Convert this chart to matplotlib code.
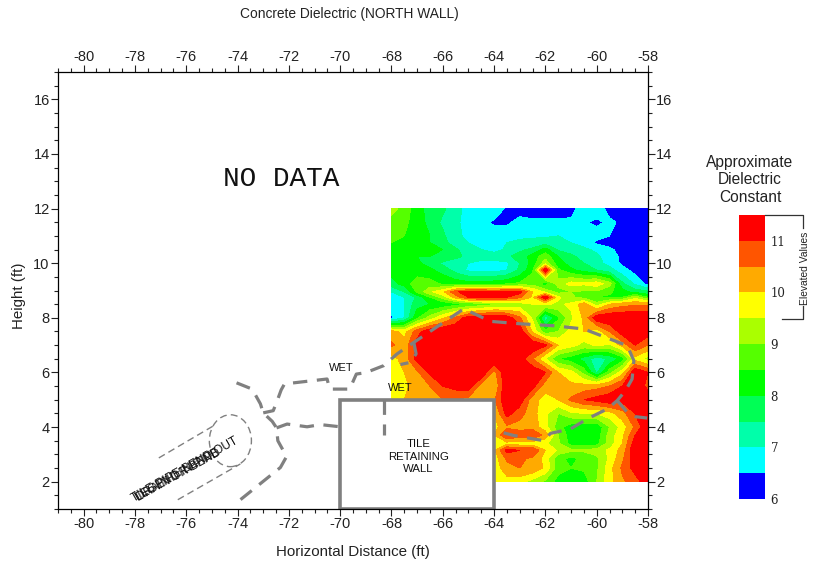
import matplotlib
matplotlib.use("Agg")
import matplotlib.pyplot as plt
import numpy as np
from matplotlib.lines import Line2D
from matplotlib.patches import Ellipse, Rectangle
from matplotlib.ticker import MultipleLocator

plt.rcParams['font.family'] = ['Liberation Sans', 'DejaVu Sans']
plt.rcParams['axes.unicode_minus'] = False

grid_x = [-68 + 0.5 * i for i in range(21)]
grid_y = [12, 11.5, 11, 10.75, 10.5, 10.25, 10, 9.75, 9.25, 8.95, 8.75, 8.5, 8, 7.5, 7, 6.5, 6, 5.5, 5, 4.5, 4, 3.7, 3.4, 3.15, 2.85, 2.5, 2]

# dielectric values, top row first
rows = [
    [9.2, 8.8, 8.2, 7.8, 7.6, 7.2, 6.8, 6.8, 6.9, 6.4, 6.2, 6.2, 6.2, 6.2, 6.3, 6.8, 6.8, 6.3, 6.2, 6.2, 6.2],
    [8.8, 8.6, 8.3, 7.8, 7.4, 7.1, 6.8, 6.7, 6.4, 6.4, 6.7, 6.6, 6.6, 6.6, 6.6, 6.55, 6.4, 6.6, 6.4, 6.2, 6.2],
    [8.7, 8.5, 8.2, 8.0, 7.6, 7.1, 6.9, 6.9, 6.8, 6.8, 6.9, 6.9, 6.9, 7.0, 6.9, 6.8, 6.7, 6.5, 6.3, 6.2, 6.2],
    [8.5, 8.4, 8.2, 8.0, 7.7, 7.2, 7.0, 6.9, 6.7, 7.0, 7.1, 7.2, 7.3, 7.2, 7.0, 6.8, 6.4, 6.3, 6.2, 6.2, 6.2],
    [8.4, 8.4, 8.2, 8.1, 8.0, 7.6, 7.2, 7.0, 6.8, 7.1, 7.4, 7.6, 8.2, 7.4, 7.3, 7.1, 6.9, 6.6, 6.3, 6.2, 6.2],
    [8.2, 8.0, 8.0, 8.0, 7.9, 7.6, 7.4, 7.3, 7.3, 7.4, 7.7, 8.2, 8.8, 8.0, 7.6, 7.3, 7.1, 6.7, 6.4, 6.2, 6.2],
    [8.2, 8.2, 8.1, 7.8, 7.4, 7.3, 7.0, 6.8, 6.8, 6.9, 7.5, 8.2, 9.3, 8.2, 7.8, 7.5, 7.2, 6.8, 6.4, 6.2, 6.2],
    [8.2, 8.2, 8.2, 8.1, 7.8, 7.3, 6.9, 6.8, 6.8, 7.0, 7.6, 8.4, 11.5, 8.6, 8.1, 7.8, 7.5, 7.2, 6.7, 6.3, 6.2],
    [7.8, 8.2, 8.8, 8.7, 8.4, 8.3, 8.2, 8.2, 8.3, 8.4, 8.6, 8.8, 8.2, 9.2, 9.7, 9.6, 9.8, 9.2, 7.6, 6.9, 6.3],
    [7.0, 7.5, 8.6, 9.4, 9.9, 10.9, 11.3, 11.3, 11.0, 11.3, 11.2, 10.0, 9.4, 8.8, 9.0, 8.9, 8.9, 8.6, 8.2, 7.8, 7.6],
    [6.9, 7.0, 7.6, 8.5, 9.2, 10.2, 11.0, 11.2, 11.2, 11.0, 10.6, 9.9, 11.5, 9.6, 9.1, 8.8, 8.5, 8.4, 8.5, 9.3, 8.5],
    [6.8, 7.0, 7.8, 8.0, 8.1, 8.3, 8.5, 8.7, 8.9, 9.0, 9.2, 9.5, 9.6, 9.4, 9.6, 10.3, 9.2, 10.0, 10.3, 10.4, 10.4],
    [6.4, 7.0, 8.4, 9.2, 9.9, 10.6, 11.3, 11.4, 11.5, 11.3, 10.6, 9.4, 7.2, 8.4, 9.4, 10.1, 11.4, 11.5, 11.5, 11.5, 11.5],
    [10.2, 9.8, 10.8, 11.4, 11.5, 11.5, 11.5, 11.5, 11.5, 11.5, 11.4, 9.9, 8.6, 9.0, 9.7, 10.0, 9.7, 10.5, 11.3, 11.5, 11.3],
    [10.6, 10.2, 11.2, 11.5, 11.5, 11.5, 11.5, 11.5, 11.5, 11.5, 11.5, 11.5, 11.1, 10.0, 9.7, 9.3, 9.6, 9.4, 10.2, 11.0, 10.5],
    [9.8, 10.2, 11.2, 11.5, 11.5, 11.5, 11.5, 11.5, 11.5, 11.5, 11.3, 10.5, 9.5, 8.5, 8.2, 7.8, 7.2, 7.6, 8.2, 9.8, 9.3],
    [9.7, 10.0, 10.4, 11.1, 11.5, 11.5, 11.5, 11.5, 10.3, 11.5, 11.5, 11.4, 11.0, 10.0, 9.7, 8.8, 7.4, 8.8, 9.8, 11.5, 11.0],
    [9.7, 9.9, 10.2, 10.5, 11.0, 11.2, 11.3, 10.3, 10.0, 11.5, 11.5, 11.2, 10.2, 10.2, 10.1, 10.2, 10.3, 10.5, 11.0, 11.5, 10.8],
    [9.5, 10.0, 10.2, 10.4, 10.5, 10.5, 10.3, 10.2, 10.4, 11.5, 11.3, 10.2, 9.8, 10.0, 10.6, 11.0, 11.2, 11.4, 11.2, 11.5, 11.5],
    [9.5, 10.0, 10.0, 10.0, 10.0, 10.0, 10.0, 10.0, 10.0, 11.2, 10.7, 10.2, 9.6, 9.0, 9.4, 9.5, 9.5, 9.8, 10.3, 11.0, 11.5],
    [9.5, 10.0, 10.0, 10.0, 10.0, 10.0, 10.0, 10.0, 9.8, 10.4, 10.3, 10.3, 9.7, 8.7, 8.2, 8.2, 8.1, 9.0, 9.7, 10.6, 11.5],
    [9.5, 10.0, 10.0, 10.0, 10.0, 10.0, 10.0, 10.0, 10.0, 11.0, 10.8, 11.0, 10.3, 9.0, 8.2, 8.2, 8.2, 9.2, 9.9, 11.0, 11.5],
    [9.5, 10.0, 10.0, 10.0, 10.0, 10.0, 10.0, 10.0, 9.8, 9.8, 9.7, 9.7, 9.6, 9.1, 8.3, 8.2, 8.3, 9.2, 10.0, 11.3, 11.5],
    [9.5, 10.0, 10.0, 10.0, 10.0, 10.0, 10.0, 10.0, 9.9, 11.2, 11.0, 11.0, 10.0, 9.4, 9.1, 9.1, 9.2, 9.6, 10.2, 11.5, 11.5],
    [9.5, 10.0, 10.0, 10.0, 10.0, 10.0, 10.0, 10.0, 9.7, 10.6, 10.6, 10.4, 9.8, 8.6, 8.4, 8.6, 8.9, 9.6, 10.4, 11.3, 11.5],
    [9.5, 10.0, 10.0, 10.0, 10.0, 10.0, 10.0, 10.0, 9.7, 10.3, 10.5, 10.4, 9.9, 8.7, 8.5, 8.6, 8.9, 9.8, 10.6, 11.2, 11.4],
    [9.5, 10.0, 10.0, 10.0, 10.0, 10.0, 10.0, 10.0, 9.6, 9.8, 9.7, 9.3, 8.9, 8.3, 8.0, 8.2, 9.0, 9.8, 10.4, 10.8, 11.3],
]

levels = [6, 6.5, 7, 7.5, 8, 8.5, 9, 9.5, 10, 10.5, 11, 11.55]
band_colors = ['#0000ff', '#00ffff', '#00ffaa', '#00ff55', '#00ff00', '#55ff00',
               '#aaff00', '#ffff00', '#ffaa00', '#ff5500', '#ff0000']
cbar_ticks = [6, 7, 8, 9, 10, 11]

# wet zone outlines, feet
wet_left = [(-74.04, 5.62), (-73.43, 5.39), (-73.11, 4.85), (-73.0, 4.52), (-72.65, 4.21), (-72.48, 3.97),
            (-72.43, 3.50), (-72.09, 2.92), (-72.33, 2.52), (-73.89, 1.34)]
wet_to_box = [(-72.48, 3.97), (-72.07, 4.11), (-71.29, 4.01), (-70.77, 4.09), (-70, 4.01)]
wet_main = [(-73.0, 4.52), (-72.61, 4.60), (-72.48, 4.90), (-72.30, 5.36), (-72.17, 5.58), (-70.51, 5.76),
            (-70.41, 5.39), (-69.63, 5.39), (-69.37, 5.94), (-69.01, 5.99), (-68.30, 6.25), (-67.78, 6.68),
            (-67.13, 7.10), (-65.18, 8.33), (-64.14, 7.87), (-62.97, 7.78), (-61.67, 7.71), (-60.50, 7.59),
            (-58.81, 6.98), (-58.55, 6.43), (-58.62, 5.76), (-58.88, 5.33), (-59.20, 4.97), (-59.59, 4.66),
            (-60.37, 4.30), (-61.02, 3.93), (-61.80, 3.77), (-62.06, 3.50), (-63.23, 3.69), (-63.95, 3.87)]
wet_loop = [(-67.13, 7.10), (-67.04, 6.68), (-67.26, 6.37), (-67.65, 6.29)]
wet_right = [(-59.20, 4.97), (-58.81, 4.54), (-58.49, 4.38), (-58.03, 4.33)]
wet_inner = [(-68.3, 5.0), (-68.3, 3.7)]
pipe_upper = [(-77.07, 2.87), (-74.93, 4.05)]
pipe_lower = [(-76.33, 1.34), (-73.89, 2.65)]

W, H = 819, 563
fig = plt.figure(figsize=(W / 100, H / 100), dpi=100)
ax = fig.add_axes([58 / W, 1 - 509 / H, 590 / W, 437 / H])

cf = ax.contourf(grid_x, grid_y[::-1], np.array(rows)[::-1], levels=levels, colors=band_colors, zorder=1)

ax.set_xlim(-81, -58)
ax.set_ylim(1, 17)
ax.xaxis.set_major_locator(MultipleLocator(2))
ax.xaxis.set_minor_locator(MultipleLocator(0.5))
ax.yaxis.set_major_locator(MultipleLocator(2))
ax.yaxis.set_minor_locator(MultipleLocator(0.5))
ax.tick_params(which='major', direction='out', length=5, width=0.8, labelsize=10.5, pad=1,
               top=True, right=True, labeltop=True, labelright=True, colors='#222222')
ax.tick_params(which='minor', direction='out', length=2.6, width=0.8, top=True, right=True, colors='#222222')
for s in ax.spines.values():
    s.set_linewidth(0.9)
    s.set_zorder(6)

ax.add_patch(Rectangle((-70, 1), 6, 4, fc='white', ec='#808080', lw=2.6, zorder=3, joinstyle='miter'))

for path in [wet_left, wet_to_box, wet_main, wet_loop, wet_right, wet_inner]:
    px, py = zip(*path)
    ax.plot(px, py, color='#808080', lw=2.3, dashes=(4.5, 3), zorder=4, solid_capstyle='butt')
for path in [pipe_upper, pipe_lower]:
    px, py = zip(*path)
    ax.plot(px, py, color='#808080', lw=1, dashes=(5, 3), zorder=2)
ax.add_patch(Ellipse((-74.28, 3.5), 1.64, 1.9, fc='none', ec='#808080', lw=1, ls=(0, (5, 3)), zorder=2))

ax.text(-72.28, 13.1, 'NO DATA', family='Liberation Mono', fontsize=20, ha='center', va='center', color='#111111')
ax.text(-69.95, 6.18, 'WET', fontsize=8, ha='center', va='center', color='#111111', zorder=5)
ax.text(-67.65, 5.44, 'WET', fontsize=8, ha='center', va='center', color='#111111', zorder=5)
ax.text(-66.95, 2.92, 'TILE\nRETAINING\nWALL', fontsize=8.2, ha='center', va='center', color='#111111', zorder=5,
        linespacing=1.3)
ax.text(-76.05, 2.45, 'TILE PIPE BEND OUT', fontsize=8.6, rotation=29.5, rotation_mode='anchor', ha='center', va='center',
        color='#111111', zorder=5)
ax.text(-76.3, 2.25, 'DRAIN OR BEND', fontsize=8.6, rotation=29.5, rotation_mode='anchor', ha='center', va='center',
        color='#111111', zorder=5)
ax.text(-76.35, 2.23, 'LEGEND IN PIPE', fontsize=8.6, rotation=29.5, rotation_mode='anchor', ha='center', va='center',
        color='#111111', zorder=5)

fig.text(349 / W, 1 - 14 / H, 'Concrete Dielectric (NORTH WALL)', fontsize=9.9, ha='center', va='center', color='#222222')
fig.text(353 / W, 1 - 552 / H, 'Horizontal Distance (ft)', fontsize=10.9, ha='center', va='center', color='#222222')
fig.text(19 / W, 1 - 296 / H, 'Height (ft)', fontsize=10.9, rotation=90, ha='center', va='center', color='#222222')
fig.text(750 / W, 1 - 180 / H, 'Approximate\nDielectric\nConstant', fontsize=11.2, ha='center', va='center',
         color='#222222', linespacing=1.18)

cax = fig.add_axes([739 / W, 1 - 499 / H, 26 / W, 284 / H])
cbar = fig.colorbar(cf, cax=cax, ticks=cbar_ticks)
cbar.outline.set_visible(False)
cax.tick_params(length=0, pad=4)
for lab in cax.get_yticklabels():
    lab.set_family('DejaVu Serif')
    lab.set_fontsize(8.5)
    lab.set_color('#222222')

# bracket for the elevated values
for seg in [[(765, 215), (803, 215), (803, 228)], [(803, 306), (803, 319), (782, 319)]]:
    fig.add_artist(Line2D([p[0] / W for p in seg], [1 - p[1] / H for p in seg], color='#333333', lw=0.9))
fig.text(805 / W, 1 - 268 / H, 'Elevated Values', fontsize=7.4, rotation=90, ha='center', va='center', color='#222222')

fig.savefig('out.png', dpi=100)
